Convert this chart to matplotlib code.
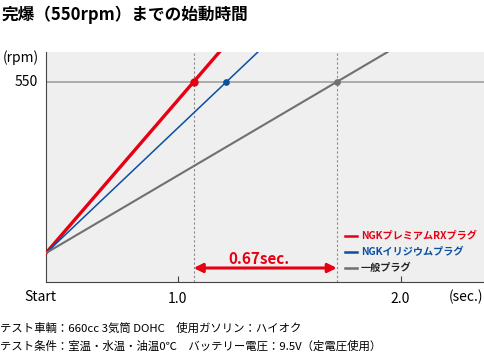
import matplotlib
matplotlib.use('Agg')
import matplotlib.pyplot as plt

plt.rcParams['font.family'] = ['Noto Sans CJK JP', 'DejaVu Sans']

# data
title = '完爆（550rpm）までの始動時間'
series = ['NGKプレミアムRXプラグ', 'NGKイリジウムプラグ', '一般プラグ']
colors = ['#e60012', '#0a4fa0', '#707070']
widths = [2.4, 1.1, 1.5]
start_t = 0.41       # "Start" position on time axis (sec.)
start_rpm = 0
target_rpm = 550
reach_t = [1.072, 1.219, 1.714]   # time to reach 550 rpm
diff_label = '0.67sec.'
xticks = [1.0, 2.0]
xtick_labels = ['1.0', '2.0']
notes = ['テスト車輌：660cc 3気筒 DOHC　使用ガソリン：ハイオク',
         'テスト条件：室温・水温・油温0℃　バッテリー電圧：9.5V（定電圧使用）']

fig = plt.figure(figsize=(4.84, 3.53), dpi=100)
ax = fig.add_axes([46/484, 1-282/353, 438/484, 230/353])
ax.set_facecolor('#efefef')
ax.set_xlim(0.41, 2.374)
ax.set_ylim(-93, 646)

# 550 rpm line
ax.axhline(target_rpm, color='#999999', lw=1.1, zorder=1)
# dashed markers for red and gray
for t in (reach_t[0], reach_t[2]):
    ax.axvline(t, color='#888888', lw=0.8, ls=(0, (2, 2)), zorder=1)

for name, c, w, t in zip(series, colors, widths, reach_t):
    ax.axline((start_t, start_rpm), (t, target_rpm), color=c, lw=w, zorder=3)
    ax.plot([t], [target_rpm], 'o', color=c, ms=5 if w > 2 else 3.8, zorder=4)

# arrow between red and gray
ax.annotate('', xy=(reach_t[2], -48), xytext=(reach_t[0], -48),
            arrowprops=dict(arrowstyle='<|-|>', color=colors[0], lw=2.2,
                            mutation_scale=13, shrinkA=0, shrinkB=0), zorder=5)
ax.text(1.363, -20, diff_label, color=colors[0],
        fontsize=11, fontweight='bold', ha='center', va='center')

# legend
for i, (name, c) in enumerate(zip(series, colors)):
    yf = (282 - (236 + 16 * i)) / 230
    ax.plot([(345 - 46) / 438, (357 - 46) / 438], [yf, yf], color=c, lw=1.8,
            transform=ax.transAxes, clip_on=False)
    ax.text((361 - 46) / 438, yf, name, color=c if i < 2 else '#222222',
            fontsize=7.3, fontweight='bold', ha='left', va='center',
            transform=ax.transAxes)

# axes styling
for s in ['top', 'right']:
    ax.spines[s].set_visible(False)
for s in ['left', 'bottom']:
    ax.spines[s].set_color('#444444')
    ax.spines[s].set_linewidth(0.8)
ax.set_yticks([])
ax.set_xticks(xticks)
ax.set_xticklabels(xtick_labels, fontsize=10)
ax.tick_params(axis='x', direction='in', length=4, color='#444444', pad=7)
ax.text(0.41 - 0.025, -0.065, 'Start', fontsize=10, ha='center', va='center',
        transform=ax.get_xaxis_transform())
fig.text(483/484, 1 - 297/353, '(sec.)', fontsize=10, ha='right', va='center')
fig.text(3/484, 1 - 58/353, '(rpm)', fontsize=10, ha='left', va='center')
ax.text(-0.018, target_rpm, str(target_rpm), fontsize=10, ha='right', va='center',
        transform=ax.get_yaxis_transform())

fig.text(2/484, 1 - 15/353, title, fontsize=12, fontweight='bold',
         ha='left', va='center')
fig.text(0, 1 - 328/353, notes[0], fontsize=8.2, ha='left', va='center')
fig.text(0, 1 - 346/353, notes[1], fontsize=8.2, ha='left', va='center')

fig.savefig('out.png', dpi=100)
